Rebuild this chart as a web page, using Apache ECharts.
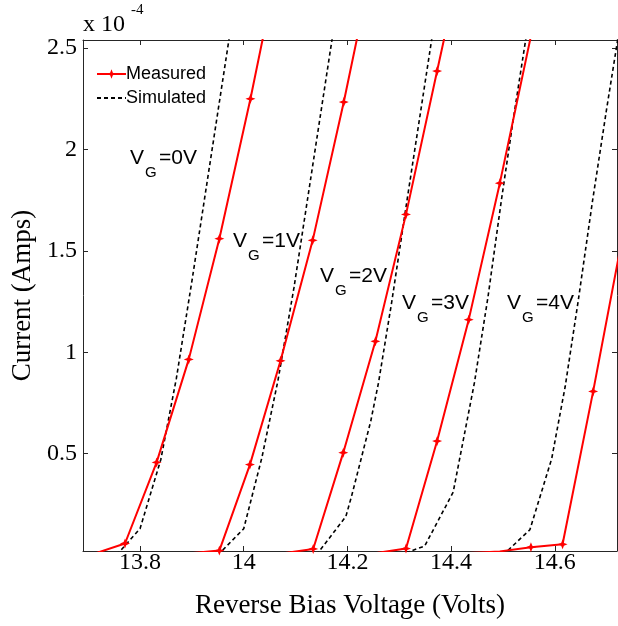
<!DOCTYPE html>
<html>
<head>
<meta charset="utf-8">
<script src="https://cdn.jsdelivr.net/npm/echarts@6/dist/echarts.min.js"></script>
<style>
  html, body { margin: 0; padding: 0; background: #fff; }
  #chart { width: 618px; height: 626px; }
</style>
</head>
<body>
<div id="chart"></div>
<script>
// values are [voltage (V), current (x 1e-4 A)]
const measured0 = [[13.711, 0.006], [13.771, 0.057], [13.832, 0.457], [13.894, 0.965], [13.953, 1.56], [14.013, 2.25], [14.073, 3.0]];
const measured1 = [[13.893, 0.008], [13.953, 0.022], [14.012, 0.446], [14.071, 0.958], [14.133, 1.552], [14.193, 2.234], [14.253, 2.97]];
const measured2 = [[14.074, 0.008], [14.134, 0.03], [14.192, 0.505], [14.254, 1.054], [14.313, 1.68], [14.373, 2.387], [14.433, 3.09]];
const measured3 = [[14.253, 0.009], [14.313, 0.032], [14.373, 0.562], [14.434, 1.161], [14.494, 1.834], [14.554, 2.56], [14.614, 3.3]];
const measured4 = [[14.434, 0.01], [14.494, 0.018], [14.554, 0.039], [14.615, 0.053], [14.674, 0.807], [14.735, 1.63]];

const simulated0 = [[13.755, 0], [13.80, 0.13], [13.84, 0.47], [13.87, 0.87], [13.90, 1.35], [13.93, 1.85], [13.96, 2.35], [13.99, 2.85]];
const simulated1 = [[13.95, 0], [14.0, 0.13], [14.035, 0.48], [14.066, 0.86], [14.097, 1.32], [14.127, 1.82], [14.157, 2.32], [14.187, 2.82]];
const simulated2 = [[14.14, 0], [14.197, 0.19], [14.208, 0.29], [14.245, 0.66], [14.26, 0.85], [14.285, 1.24], [14.315, 1.75], [14.345, 2.25], [14.375, 2.75]];
const simulated3 = [[14.30, 0], [14.349, 0.044], [14.404, 0.31], [14.445, 0.85], [14.471, 1.27], [14.497, 1.75], [14.52, 2.15], [14.545, 2.56], [14.57, 2.98]];
const simulated4 = [[14.50, 0], [14.552, 0.125], [14.594, 0.475], [14.62, 0.83], [14.645, 1.25], [14.673, 1.75], [14.70, 2.2], [14.72, 2.52], [14.745, 2.95]];

const xTicks = [13.8, 14, 14.2, 14.4, 14.6];
const yTicks = [0.5, 1, 1.5, 2, 2.5];
const gateLabels = ['0V', '1V', '2V', '3V', '4V'];

const RED = '#ff0000';
const AXIS = '#262626';
const SERIF = '"Liberation Serif", "Times New Roman", serif';
const SANS = '"Liberation Sans", Arial, sans-serif';
const STAR = 'path://M5,0 L6.4,3.6 L10,5 L6.4,6.4 L5,10 L3.6,6.4 L0,5 L3.6,3.6 Z';

const chart = echarts.init(document.getElementById('chart'));

function measuredSeries(data) {
  return {
    name: 'Measured', type: 'line', data: data,
    symbol: STAR, symbolSize: 10, showAllSymbol: true,
    itemStyle: { color: RED },
    lineStyle: { color: RED, width: 2 },
    z: 3,
  };
}
function simulatedSeries(data) {
  return {
    name: 'Simulated', type: 'line', data: data,
    showSymbol: false, symbol: 'none',
    itemStyle: { color: 'transparent' },
    lineStyle: { color: '#000', width: 1.6, type: [4, 3] },
    z: 2,
  };
}

// V_G labels: [x of "V", centre y of "V"]
const gatePos = [[130, 157], [233, 240], [320, 275], [402, 302], [507, 302]];
const gateGraphics = [];
gatePos.forEach((p, i) => {
  const base = { fill: '#000', fontFamily: SANS, textVerticalAlign: 'middle', textAlign: 'left' };
  gateGraphics.push({ type: 'text', left: p[0], top: p[1] - 9, style: Object.assign({ text: 'V', fontSize: 21 }, base) });
  gateGraphics.push({ type: 'text', left: p[0] + 15, top: p[1] + 8, style: Object.assign({ text: 'G', fontSize: 15 }, base) });
  gateGraphics.push({ type: 'text', left: p[0] + 29, top: p[1] - 9, style: Object.assign({ text: '=' + gateLabels[i], fontSize: 21 }, base) });
});

const option = {
  animation: false,
  backgroundColor: '#fff',
  grid: { left: 83, top: 40, right: 1, bottom: 75, containLabel: false },
  legend: {
    orient: 'vertical', left: 91, top: 60,
    itemWidth: 29, itemHeight: 12, itemGap: 6,
    data: ['Measured', { name: 'Simulated', itemStyle: { opacity: 0 } }],
    textStyle: { fontFamily: SANS, fontSize: 18, color: '#000', padding: [0, 0, 0, -5] },
  },
  xAxis: [
    {
      type: 'value', min: 13.69, max: 14.72, position: 'bottom',
      name: 'Reverse Bias Voltage (Volts)', nameLocation: 'middle', nameGap: 41,
      nameTextStyle: { fontFamily: SERIF, fontSize: 27, color: '#000' },
      axisLine: { show: true, lineStyle: { color: AXIS, width: 1 } },
      axisTick: { show: true, inside: true, length: 5, customValues: xTicks, lineStyle: { color: AXIS } },
      axisLabel: { customValues: xTicks, margin: 0, fontFamily: SERIF, fontSize: 24, color: '#000',
        formatter: (v) => String(Math.round(v * 10) / 10) },
      splitLine: { show: false },
    },
    {
      type: 'value', min: 13.69, max: 14.72, position: 'top',
      axisLine: { show: true, lineStyle: { color: AXIS, width: 1 } },
      axisTick: { show: true, inside: true, length: 5, customValues: xTicks, lineStyle: { color: AXIS } },
      axisLabel: { show: false },
      splitLine: { show: false },
    },
  ],
  yAxis: [
    {
      type: 'value', min: 0.02, max: 2.54, position: 'left',
      name: 'Current (Amps)', nameLocation: 'middle', nameGap: 46,
      nameTextStyle: { fontFamily: SERIF, fontSize: 27, color: '#000' },
      axisLine: { show: true, lineStyle: { color: AXIS, width: 1 } },
      axisTick: { show: true, inside: true, length: 5, customValues: yTicks, lineStyle: { color: AXIS } },
      axisLabel: { customValues: yTicks, margin: 6, fontFamily: SERIF, fontSize: 24, color: '#000',
        formatter: (v) => String(Math.round(v * 10) / 10) },
      splitLine: { show: false },
    },
    {
      type: 'value', min: 0.02, max: 2.54, position: 'right',
      axisLine: { show: true, lineStyle: { color: AXIS, width: 1 } },
      axisTick: { show: true, inside: true, length: 5, customValues: yTicks, lineStyle: { color: AXIS } },
      axisLabel: { show: false },
      splitLine: { show: false },
    },
  ],
  graphic: [
    { type: 'text', left: 83, top: 13, style: { text: 'x 10', fontFamily: SERIF, fontSize: 24, fill: '#000' } },
    { type: 'text', left: 131, top: 3, style: { text: '-4', fontFamily: SERIF, fontSize: 15, fill: '#000' } },
  ].concat(gateGraphics),
  series: [
    measuredSeries(measured0), measuredSeries(measured1), measuredSeries(measured2),
    measuredSeries(measured3), measuredSeries(measured4),
    simulatedSeries(simulated0), simulatedSeries(simulated1), simulatedSeries(simulated2),
    simulatedSeries(simulated3), simulatedSeries(simulated4),
  ],
};

chart.setOption(option);
</script>
</body>
</html>
